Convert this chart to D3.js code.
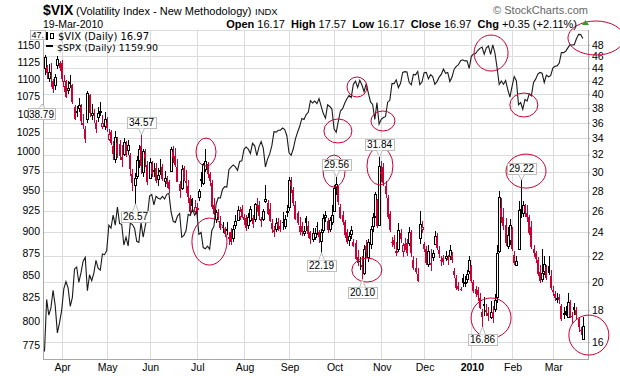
<!DOCTYPE html>
<html><head><meta charset="utf-8">
<script src="https://cdn.jsdelivr.net/npm/d3@7"></script>
<style>
body{margin:0;background:#fff;}
svg{display:block;font-family:"Liberation Sans",Arial,sans-serif;}
</style></head>
<body><svg id="c" width="620" height="376"></svg>
<script>
// ---------- DATA ----------
const monthDays = [8,21,20,22,22,21,21,22,20,22,19,19,15]; // trading days: Mar-09 (from 20th) .. Mar-10 (to 19th)
const monthLabels = ["Apr","May","Jun","Jul","Aug","Sep","Oct","Nov","Dec","2010","Feb","Mar"];
const vixTicks = [16,18,20,22,24,26,28,30,32,34,36,38,40,42,44,46,48];
const spxTicks = [775,800,825,850,875,900,925,950,975,1000,1025,1075,1100,1125,1150];

const vixOpen = [44.0,44.2,42.4,43.0,42.0,41.4,44.6,44.9,
44.8,41.2,41.9,40.6,41.8,41.3,38.2,37.6,38.0,38.2,36.0,35.2,36.5,39.8,37.1,37.0,35.9,36.8,37.5,35.6,35.6,
36.0,33.9,34.8,33.0,31.5,33.4,33.3,31.7,32.1,33.3,32.5,31.9,29.8,28.5,29.6,31.3,33.0,29.9,32.1,30.8,
29.4,30.9,30.1,30.5,29.2,30.1,30.6,29.0,29.0,28.9,30.1,32.3,31.8,30.6,28.7,28.3,30.5,29.0,28.5,27.3,27.1,26.0,
26.1,27.3,29.2,28.8,30.4,30.9,29.8,28.8,26.6,25.2,25.9,25.0,24.5,24.1,24.3,23.6,24.0,23.5,24.6,25.2,25.5,26.2,
25.4,25.3,24.6,25.1,25.3,25.2,26.5,26.6,25.2,25.2,27.0,26.8,26.2,24.8,24.2,24.3,24.9,24.6,24.9,24.6,26.0,
26.4,28.9,28.1,26.6,25.8,24.6,24.6,24.0,25.3,24.6,24.0,23.4,23.6,24.6,24.0,23.3,24.2,25.4,25.0,24.3,25.0,
26.0,28.4,28.3,26.4,25.6,24.9,24.0,23.3,23.9,23.2,23.1,21.9,21.6,21.3,20.7,22.8,21.9,23.0,24.6,25.5,27.0,24.7,
30.0,30.6,28.5,27.3,25.7,23.2,23.3,22.3,22.6,23.9,22.4,23.0,23.1,23.0,24.0,21.7,21.0,20.6,23.5,24.3,
23.0,22.6,21.3,21.4,21.9,23.0,23.6,22.5,21.7,21.8,21.8,21.8,22.0,22.1,20.8,20.3,19.7,19.5,20.3,20.0,20.2,20.8,
21.2,20.0,19.5,19.4,18.8,17.9,18.4,18.0,17.8,17.6,17.9,18.1,18.9,22.4,26.3,25.4,24.7,22.8,23.3,
24.3,22.1,21.3,22.6,26.2,25.7,26.5,25.8,25.4,24.5,22.6,22.2,21.7,20.7,20.2,20.8,21.1,21.2,20.4,
19.4,19.1,18.8,18.9,18.3,17.7,17.9,17.6,18.5,17.6,18.2,18.0,17.4,16.7,16.17];

const vixHigh = [46.2,44.5,44.7,44.9,42.3,43.1,46.0,45.2,
45.3,42.9,42.2,42.0,42.9,41.6,38.4,38.3,39.4,38.6,37.2,35.5,40.5,40.0,38.6,37.9,36.3,38.1,38.8,37.0,37.4,
36.8,35.2,35.0,33.6,34.9,34.2,33.8,33.1,34.0,33.6,33.8,32.2,30.3,29.9,31.8,33.1,34.57,32.6,32.6,31.2,
31.6,31.2,31.0,31.0,30.4,31.5,30.9,30.1,29.6,29.1,32.9,33.0,32.8,31.5,29.0,30.8,30.7,30.2,29.1,27.6,27.3,27.0,
26.8,28.2,30.0,31.0,32.6,31.1,30.0,29.1,27.2,26.1,26.2,25.5,24.9,24.5,24.9,24.0,24.4,24.7,25.6,26.5,26.4,26.6,
25.7,25.6,25.8,26.5,25.6,26.8,27.3,26.9,25.4,26.2,28.6,27.0,26.8,25.2,24.6,25.3,25.3,25.1,25.9,25.6,26.6,
29.5,29.4,28.4,26.9,26.0,25.4,24.9,24.6,25.5,25.0,24.1,24.4,24.4,24.9,24.2,24.3,25.7,26.0,25.3,25.4,26.6,
28.6,29.56,28.5,26.7,26.0,25.1,24.3,24.0,24.6,23.4,23.3,22.5,21.9,22.0,22.9,23.3,23.4,24.6,25.8,27.9,27.1,31.84,
31.2,31.0,29.0,27.6,26.0,23.6,23.8,23.2,24.8,24.3,23.1,23.5,23.4,24.5,24.2,22.0,21.8,21.0,26.0,25.0,
23.2,22.8,22.9,22.6,22.5,24.1,23.9,22.8,22.0,22.1,22.4,22.1,22.9,22.3,21.0,20.5,20.0,19.6,20.6,20.4,20.9,22.0,
21.3,20.1,19.7,19.6,19.2,18.1,18.9,18.4,18.2,18.6,18.3,19.1,22.9,28.0,27.3,26.3,25.3,24.5,25.2,
24.5,22.4,22.0,26.9,29.22,26.9,26.7,26.6,25.6,25.0,22.9,22.4,21.9,21.3,22.6,22.0,21.3,22.0,20.9,
19.7,19.3,19.2,19.1,18.4,18.2,18.3,19.2,18.7,17.9,18.5,18.2,17.5,16.9,17.57];

const vixLow = [42.9,42.3,41.9,41.0,40.1,40.6,43.9,43.5,
41.8,40.3,39.5,40.0,40.9,38.6,36.3,36.8,37.4,35.7,35.2,33.4,35.9,36.8,36.4,36.0,34.6,36.1,36.9,35.2,35.1,
34.8,33.6,33.1,31.4,31.0,31.6,31.4,30.6,31.8,31.7,31.9,29.6,28.0,26.57,29.2,30.5,29.8,29.4,30.6,28.6,
29.2,29.4,29.5,28.8,28.5,29.7,29.0,28.4,28.3,27.8,30.0,31.0,30.6,28.9,27.2,28.1,29.0,27.8,26.8,25.7,25.9,25.7,
25.2,26.9,28.4,28.6,30.0,29.3,28.5,26.2,25.6,24.8,25.1,24.2,23.9,23.6,23.8,22.9,22.9,23.2,24.3,25.0,25.1,25.3,
24.7,24.1,24.3,24.9,24.4,24.9,25.9,25.1,24.5,25.0,26.8,25.6,24.9,23.9,23.6,24.0,24.1,24.0,24.2,24.3,25.4,
26.0,27.8,26.5,25.1,24.7,23.8,23.7,23.7,24.1,23.5,23.0,23.2,23.3,23.8,23.1,22.19,23.9,24.9,23.9,24.0,24.7,
25.9,27.6,26.6,25.2,24.7,23.5,23.0,22.8,23.4,22.7,21.7,21.2,20.9,20.10,20.5,21.8,21.5,22.6,24.0,25.3,24.4,24.6,
28.9,28.5,27.2,25.2,24.0,22.7,22.6,22.0,22.3,23.1,21.9,22.5,22.0,22.8,21.9,20.9,20.6,20.0,23.0,23.9,
22.3,21.3,21.1,20.8,21.6,22.9,22.5,21.8,21.2,21.3,21.6,21.3,21.7,21.4,20.3,19.4,19.3,19.3,19.6,19.6,19.9,20.6,
19.9,19.2,18.9,18.6,18.1,16.86,17.6,17.6,17.3,17.4,17.2,17.9,18.5,22.2,24.8,24.2,22.8,22.6,22.9,
22.4,21.3,21.2,22.5,25.3,25.4,25.4,24.9,23.8,22.6,21.9,21.4,20.4,19.9,20.0,20.5,20.1,20.5,19.4,
19.0,18.6,18.5,18.4,17.3,17.4,17.6,17.5,17.5,17.2,17.7,17.4,16.6,16.4,16.17];

const vixClose = [45.89,43.23,43.34,42.93,40.81,42.64,45.54,44.14,
42.28,42.04,39.70,40.93,41.45,38.85,36.53,37.36,38.44,36.28,35.79,33.94,40.20,37.25,37.36,36.82,35.12,37.29,37.60,35.95,36.50,
35.30,34.53,33.40,32.05,34.19,32.05,31.80,31.37,33.55,32.12,33.12,30.24,28.80,29.30,31.35,32.63,30.62,32.36,31.67,28.92,
31.15,29.76,30.26,29.08,29.62,30.18,29.30,29.34,28.65,28.15,32.68,31.54,30.81,29.00,27.99,30.37,29.22,28.76,27.36,25.93,26.36,26.35,
26.22,27.95,29.00,30.85,31.30,29.78,29.02,26.31,25.72,25.89,25.42,24.34,24.40,23.87,24.10,23.43,23.09,24.28,25.01,26.11,25.93,25.92,
25.09,24.34,25.36,26.16,24.76,26.62,26.55,25.56,24.97,26.00,27.19,25.75,25.09,24.23,24.00,24.85,24.50,24.30,24.80,25.26,26.01,
29.15,28.52,26.82,25.26,24.88,24.07,24.04,24.15,24.80,23.90,23.42,23.91,23.92,24.56,23.55,24.05,25.28,25.61,24.20,25.10,25.61,
28.27,28.68,26.84,25.36,24.92,23.72,23.12,23.68,24.25,22.86,21.81,21.43,21.50,21.18,22.60,22.27,23.12,24.33,25.40,27.61,24.52,30.69,
29.78,28.81,27.72,25.43,24.19,23.15,22.84,22.38,24.25,23.36,22.89,22.85,22.25,23.99,22.19,21.10,20.72,20.05,24.74,24.51,
22.60,21.49,22.38,21.25,22.23,23.69,22.69,22.18,21.59,21.49,21.96,21.60,22.51,21.68,20.52,19.54,19.49,19.47,19.93,20.01,20.54,21.68,
20.04,19.35,19.16,19.06,18.13,17.55,18.25,17.85,17.63,17.91,17.58,18.68,22.27,27.31,25.41,24.55,23.14,23.73,24.62,
22.59,21.48,21.60,26.08,26.11,26.51,26.00,25.40,23.96,22.73,22.25,21.72,20.63,20.02,20.64,21.37,20.27,20.67,19.50,
19.26,18.83,18.85,18.72,17.42,17.79,17.92,18.57,17.58,17.56,18.00,17.69,16.91,16.62,16.97];

const spxClose = [768.54,822.92,806.12,813.88,832.86,815.94,787.53,797.87,
811.08,834.38,842.50,835.48,815.55,825.16,856.56,858.73,841.50,852.06,865.30,869.60,832.39,850.08,843.55,851.92,866.23,857.51,855.16,873.64,872.81,
877.52,907.24,903.80,919.53,907.39,929.23,909.24,908.35,883.92,893.07,882.88,909.71,908.13,903.47,888.33,887.00,910.33,893.06,906.83,919.14,
942.87,944.74,931.76,942.46,940.09,939.14,942.43,939.15,944.89,946.21,923.72,911.97,910.71,918.37,921.23,893.04,895.10,900.94,920.26,918.90,927.23,919.32,
923.33,896.42,898.72,881.03,879.56,882.68,879.13,901.05,905.84,932.68,940.74,940.38,951.13,954.58,954.07,976.29,979.26,982.18,979.62,975.15,986.75,987.48,
1002.63,1005.65,1002.72,997.08,1010.48,1007.10,994.35,1005.81,1012.73,1004.09,979.73,989.67,996.46,1007.37,1026.13,1025.57,1028.00,1028.12,1030.98,1028.93,1020.62,
998.04,994.75,1003.24,1016.40,1025.39,1033.37,1044.14,1042.73,1049.34,1052.63,1068.76,1065.49,1068.30,1064.66,1071.66,1060.87,1050.78,1044.38,1062.98,1060.61,1057.08,
1029.85,1025.21,1040.46,1054.72,1057.58,1065.48,1071.49,1076.19,1073.19,1092.02,1096.56,1087.68,1097.91,1091.06,1081.40,1092.91,1079.60,1066.95,1063.41,1042.63,1066.11,1036.19,
1042.88,1045.41,1046.50,1066.63,1069.30,1093.08,1093.01,1098.51,1087.24,1093.48,1109.30,1110.32,1109.80,1094.90,1091.38,1106.24,1105.65,1110.63,1091.49,1095.63,
1108.86,1109.24,1099.92,1105.98,1103.25,1091.94,1095.95,1102.35,1106.41,1114.11,1107.93,1109.18,1096.08,1102.47,1114.05,1118.02,1120.59,1126.48,1127.78,1126.20,1126.42,1115.10,
1132.99,1136.52,1137.14,1141.69,1144.98,1146.98,1136.22,1145.68,1148.46,1136.03,1150.23,1138.04,1116.48,1091.76,1096.78,1092.17,1097.50,1084.53,1073.87,
1089.19,1103.32,1097.28,1063.11,1066.19,1056.74,1070.52,1068.13,1078.47,1075.51,1094.87,1099.51,1106.75,1109.17,1108.01,1094.60,1105.24,1102.94,1104.49,
1115.71,1118.31,1118.79,1122.97,1138.70,1138.50,1140.45,1145.61,1150.24,1149.99,1150.51,1159.46,1166.21,1165.83,1159.90];

// annotated extremes: [day index, "high"|"low"]
const flags = [[45,"high"],[42,"low"],[129,"low"],[136,"high"],[148,"low"],[156,"high"],[222,"high"],[204,"low"]];
// hand-drawn ellipses: [series, day index, value, rx, ry]
const circles = [["vix",75.3,32.3,10,14],["spx",76.9,888,17.5,23.5],["spx",136.8,1027,14,12],["spx",157.8,1040.6,12,10],
["vix",135,30.1,11,16],["vix",156.4,30.67,13,19],["vix",150.3,20.88,15,12],["spx",145.7,1088.2,10,10],
["spx",208.2,1137.9,17,18],["spx",223.5,1062.7,14,12],["spx",257.1,1160.6,28,17],["vix",224.5,30.1,20,17],
["vix",208.2,17.49,20,20],["vix",253.8,16.42,20,20]];

// ---------- CHART ----------
const svg = d3.select("#c");
const L=43, R=588, T=30, B=359;
const RED="#cc0033", GRID="#dcdcdc", AX="#a8a8a8";
const x = d3.scaleLinear().domain([-0.7,253.4]).range([L,R]);
const yV = d3.scaleLog().domain([15.03,50.7]).range([B,T]);
const yS = d3.scaleLog().domain([760.9,1172.9]).range([B,T]);

const starts=[]; let acc=0; monthDays.forEach(d=>{starts.push(acc); acc+=d;});

// grid
const grid = svg.append("g").attr("shape-rendering","crispEdges");
grid.selectAll(".h").data(vixTicks).join("line")
  .attr("x1",L).attr("x2",R).attr("y1",d=>Math.round(yV(d))+0.5).attr("y2",d=>Math.round(yV(d))+0.5)
  .attr("stroke",GRID);
grid.selectAll(".v").data(starts.slice(1)).join("line")
  .attr("x1",d=>Math.round(x(d))+0.5).attr("x2",d=>Math.round(x(d))+0.5).attr("y1",T).attr("y2",B)
  .attr("stroke",GRID);
grid.append("line").attr("x1",L).attr("x2",R).attr("y1",T+0.5).attr("y2",T+0.5).attr("stroke",GRID);
grid.append("line").attr("x1",L+0.5).attr("x2",L+0.5).attr("y1",T).attr("y2",B+1).attr("stroke",AX);
grid.append("line").attr("x1",R+0.5).attr("x2",R+0.5).attr("y1",T).attr("y2",B+1).attr("stroke",AX);
grid.append("line").attr("x1",L).attr("x2",R+1).attr("y1",B+0.5).attr("y2",B+0.5).attr("stroke",AX);

// axes
const axL = svg.append("g").attr("transform",`translate(${L},0)`)
  .call(d3.axisLeft(yS).tickValues(spxTicks).tickFormat(d3.format("d")).tickSize(0).tickPadding(3));
const axR = svg.append("g").attr("transform",`translate(${R},0)`)
  .call(d3.axisRight(yV).tickValues(vixTicks).tickFormat(d3.format("d")).tickSize(2).tickPadding(2));
[axL,axR].forEach(a=>{a.select(".domain").remove();
  a.selectAll("text").attr("font-size","10.5px").attr("fill","#000").attr("font-family","Liberation Sans, Arial, sans-serif");
  a.selectAll("line").attr("stroke",AX);});

// month labels
svg.append("g").selectAll("text").data(monthLabels).join("text")
  .attr("x",(d,k)=>x(starts[k+1])+1).attr("y",371).attr("text-anchor","middle")
  .attr("font-size","10.5px").attr("font-weight",d=>d==="2010"?"bold":"normal").text(d=>d);

// candles
const cg = svg.append("g").attr("shape-rendering","crispEdges");
vixClose.forEach((c,i)=>{
  const col = (i>0 && c<vixClose[i-1]) ? RED : "#000";
  const xi = Math.round(x(i));
  cg.append("line").attr("x1",xi+0.5).attr("x2",xi+0.5)
    .attr("y1",yV(vixHigh[i])).attr("y2",yV(vixLow[i])).attr("stroke",col);
  const o=vixOpen[i], yo=yV(o), yc=yV(c);
  if (c>o) {
    cg.append("rect").attr("x",xi-0.5).attr("y",Math.round(yc)+0.5).attr("width",2)
      .attr("height",Math.max(1,Math.round(yo-yc))).attr("fill","#fff").attr("stroke",col);
  } else {
    cg.append("rect").attr("x",xi-1).attr("y",Math.round(yo)).attr("width",2)
      .attr("height",Math.max(1,Math.round(yc-yo))).attr("fill",col);
  }
});

// SPX line
svg.append("path").datum(spxClose)
  .attr("d",d3.line().x((d,i)=>x(i)).y(d=>yS(d)))
  .attr("fill","none").attr("stroke","#1a1a1a").attr("stroke-width",1.1);

// ellipses
svg.append("g").selectAll("ellipse").data(circles).join("ellipse")
  .attr("cx",d=>x(d[1])).attr("cy",d=>d[0]==="vix"?yV(d[2]):yS(d[2]))
  .attr("rx",d=>d[3]).attr("ry",d=>d[4]).attr("fill","none").attr("stroke",RED).attr("stroke-width",1);

// value flags
const fg = svg.append("g");
function flagBox(px, py, text, up, bx, by){
  const g = fg.append("g");
  const t = g.append("text").attr("font-size","10px").attr("text-anchor","middle")
    .attr("x",bx).attr("y",by+3.5).text(text);
  const w = t.node().getComputedTextLength()+4, h=11;
  g.insert("rect","text").attr("x",Math.round(bx-w/2)+0.5).attr("y",Math.round(by-h/2)+0.5)
    .attr("width",Math.round(w)).attr("height",h).attr("fill","#fff").attr("stroke","#bdbdbd");
  const ey = up ? Math.round(by-h/2)+0.5 : Math.round(by+h/2)+0.5;
  g.insert("path","text").attr("d",`M${px-3},${ey}L${px},${py}L${px+3},${ey}`)
    .attr("fill","#fff").attr("stroke","#bdbdbd");
}
flags.forEach(([i,kind])=>{
  const v = kind==="high"?vixHigh[i]:vixLow[i];
  const px = Math.round(x(i))+0.5, py = yV(v);
  if(kind==="high") flagBox(px, py+1, v.toFixed(2), false, px, py-11);
  else flagBox(px, py-1, v.toFixed(2), true, px, py+12);
});

// left-axis value flag and partial flag
(function(){
  const g = svg.append("g");
  g.append("path").attr("d","M39,108.5L42,104L45,108.5").attr("fill","#fff").attr("stroke","#bdbdbd");
  g.append("rect").attr("x",28.5).attr("y",108.5).attr("width",27).attr("height",11).attr("fill","#fff").attr("stroke","#bdbdbd");
  g.append("text").attr("x",54).attr("y",117.5).attr("text-anchor","end").attr("font-size","10px").text("1038.79");
  g.append("rect").attr("x",30.5).attr("y",30.5).attr("width",15).attr("height",9).attr("fill","#fff").attr("stroke","#bdbdbd");
  g.append("text").attr("x",31.5).attr("y",38).attr("font-size","9px").text("47.");
})();

// legend
const lg = svg.append("g").attr("font-family","DejaVu Sans, Verdana, sans-serif");
lg.append("rect").attr("x",46).attr("y",32).attr("width",2).attr("height",8).attr("fill","#000");
lg.append("rect").attr("x",50.5).attr("y",33.5).attr("width",3).attr("height",5).attr("fill","#fff").attr("stroke","#000");
lg.append("text").attr("x",58).attr("y",40).attr("font-size","10px").text("$VIX (Daily) " + vixClose[vixClose.length-1].toFixed(2));
lg.append("rect").attr("x",46).attr("y",45).attr("width",7).attr("height",2).attr("fill","#000");
lg.append("text").attr("x",57).attr("y",50.5).attr("font-size","9.5px").text("$SPX (Daily) " + spxClose[spxClose.length-1].toFixed(2));

// header
svg.append("text").attr("x",43).attr("y",15).attr("font-size","14px").attr("font-weight","bold").text("$VIX");
svg.append("text").attr("x",76).attr("y",15).attr("font-size","11px").text("(Volatility Index - New Methodology)");
svg.append("text").attr("x",255).attr("y",15).attr("font-size","9.5px").text("INDX");
svg.append("text").attr("x",43).attr("y",27.5).attr("font-size","10.5px").text("19-Mar-2010");
svg.append("text").attr("x",588).attr("y",14).attr("text-anchor","end").attr("font-size","11px").attr("fill","#666").text("\u00A9 StockCharts.com");
const hdr = svg.append("text").attr("x",577).attr("y",27.5).attr("text-anchor","end").attr("font-size","11px").attr("style","white-space:pre");
const parts = [["Open",true],[" 16.17  ",false],["High",true],[" 17.57  ",false],["Low",true],[" 16.17  ",false],
  ["Close",true],[" 16.97  ",false],["Chg",true],[" +0.35 (+2.11%)",false]];
parts.forEach(([t,b])=>hdr.append("tspan").attr("font-weight",b?"bold":"normal").text(t));
svg.append("path").attr("d","M582,25L585.5,20L589,25Z").attr("fill","#339933");
</script>
</body></html>
